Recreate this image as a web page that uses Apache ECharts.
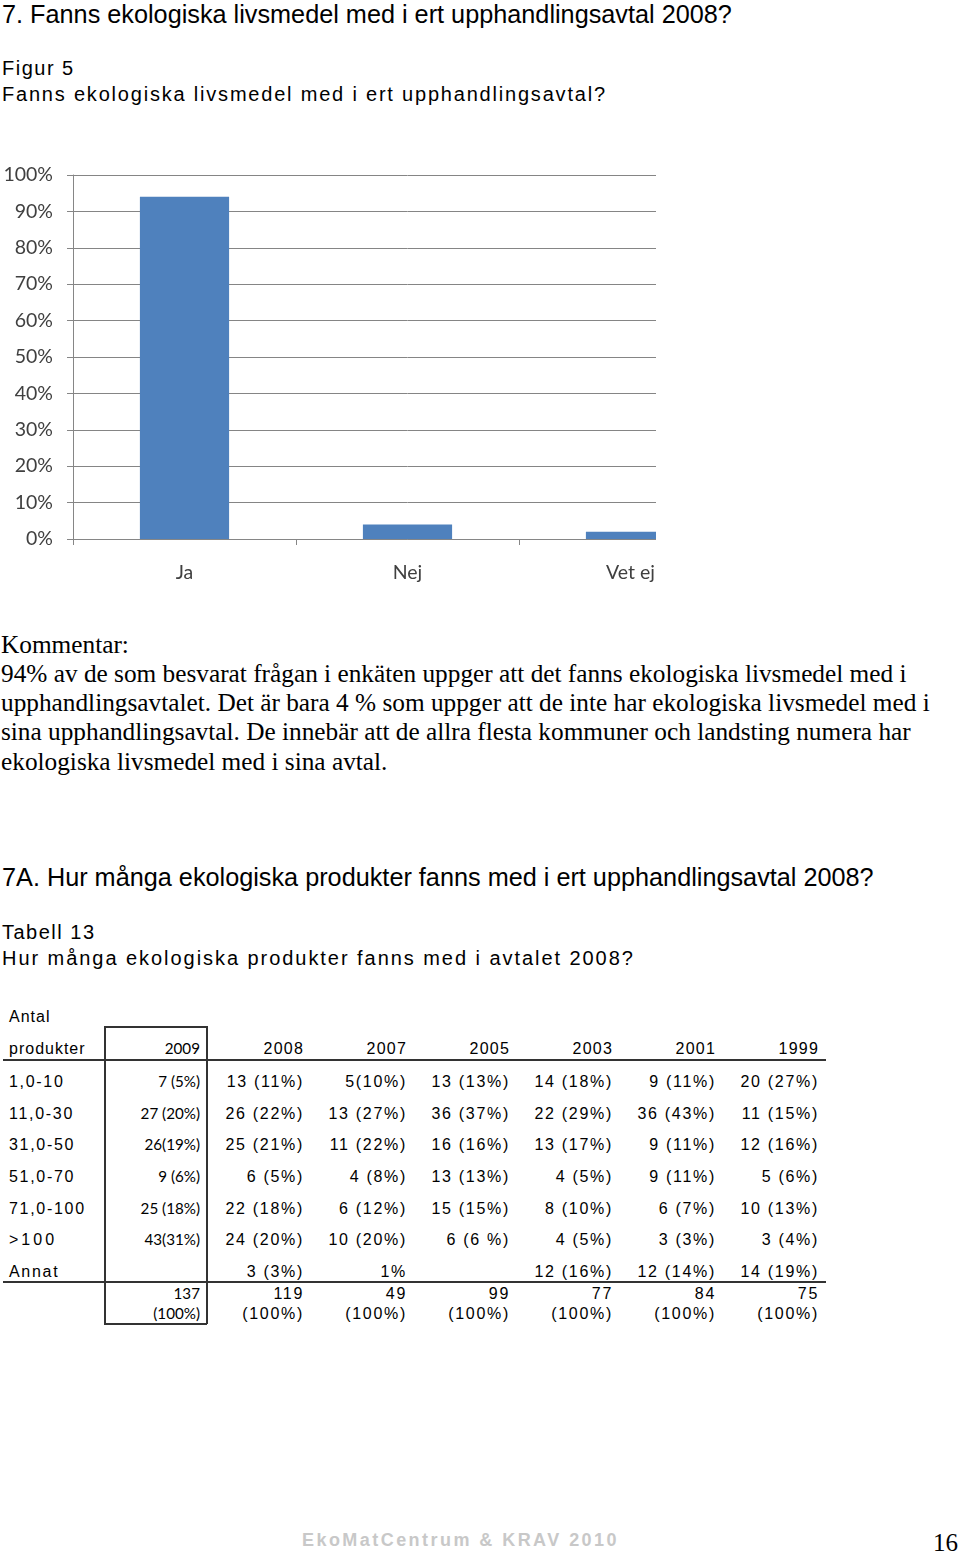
<!DOCTYPE html>
<html><head><meta charset="utf-8">
<script src="https://cdn.jsdelivr.net/npm/echarts@6/dist/echarts.min.js"></script>
<style>
html,body{margin:0;padding:0;background:#fff;}
body{width:960px;height:1554px;position:relative;overflow:hidden;color:#000;}
.t{position:absolute;white-space:nowrap;line-height:1;}
.ar{font-family:"Liberation Sans",Arial,sans-serif;}
.se{font-family:"Liberation Serif","Times New Roman",serif;}
.cell{position:absolute;white-space:nowrap;line-height:1;text-align:right;}
.ln{position:absolute;background:#333;}
</style></head>
<body>
<div style="position:absolute;left:0;top:150px;width:656px;height:440px;overflow:hidden;">
  <div id="chart" style="position:absolute;left:0;top:0;width:780px;height:440px;"></div>
</div>
<div id="page"></div>
<script>
// ---- chart data ----
var chartCategories = ['Ja', 'Nej', 'Vet ej'];
var chartValues = [94, 4, 2];
var yTicks = [0, 10, 20, 30, 40, 50, 60, 70, 80, 90, 100];

// ---- table data ----
var tableYears = ['2009', '2008', '2007', '2005', '2003', '2001', '1999'];
var rowLabels = ['1,0-10', '11,0-30', '31,0-50', '51,0-70', '71,0-100', '>100', 'Annat'];
var col2009 = ['7 (5%)', '27 (20%)', '26(19%)', '9 (6%)', '25 (18%)', '43(31%)', ''];
var col2008 = ['13 (11%)', '26 (22%)', '25 (21%)', '6 (5%)', '22 (18%)', '24 (20%)', '3 (3%)'];
var col2007 = ['5(10%)', '13 (27%)', '11 (22%)', '4 (8%)', '6 (12%)', '10 (20%)', '1%'];
var col2005 = ['13 (13%)', '36 (37%)', '16 (16%)', '13 (13%)', '15 (15%)', '6 (6 %)', ''];
var col2003 = ['14 (18%)', '22 (29%)', '13 (17%)', '4 (5%)', '8 (10%)', '4 (5%)', '12 (16%)'];
var col2001 = ['9 (11%)', '36 (43%)', '9 (11%)', '9 (11%)', '6 (7%)', '3 (3%)', '12 (14%)'];
var col1999 = ['20 (27%)', '11 (15%)', '12 (16%)', '5 (6%)', '10 (13%)', '3 (4%)', '14 (19%)'];
var totals = ['137', '119', '49', '99', '77', '84', '75'];
var totalPct = ['(100%)', '(100%)', '(100%)', '(100%)', '(100%)', '(100%)', '(100%)'];

// ---- page text ----
var page = document.getElementById('page');
function txt(s, cls, left, top, size, extra) {
  var d = document.createElement('div');
  d.className = 't ' + cls;
  d.textContent = s;
  d.style.left = left + 'px';
  d.style.top = top + 'px';
  d.style.fontSize = size + 'px';
  if (extra) for (var k in extra) d.style[k] = extra[k];
  page.appendChild(d);
  return d;
}
txt('7. Fanns ekologiska livsmedel med i ert upphandlingsavtal 2008?', 'ar', 2, 2, 25, {transform:'scaleX(1.01)', transformOrigin:'0 0'});
txt('Figur 5', 'ar', 2, 58, 20, {letterSpacing:'1.5px'});
txt('Fanns ekologiska livsmedel med i ert upphandlingsavtal?', 'ar', 2, 84, 20, {letterSpacing:'1.8px'});

var kom = ['Kommentar:',
  '94% av de som besvarat frågan i enkäten uppger att det fanns ekologiska livsmedel med i',
  'upphandlingsavtalet. Det är bara 4 % som uppger att de inte har ekologiska livsmedel med i',
  'sina upphandlingsavtal. De innebär att de allra flesta kommuner och landsting numera har',
  'ekologiska livsmedel med i sina avtal.'];
var komY = [632, 661, 690, 719, 749];
kom.forEach(function (s, i) { txt(s, 'se', 1, komY[i], 25.3); });

txt('7A. Hur många ekologiska produkter fanns med i ert upphandlingsavtal 2008?', 'ar', 2, 865, 25, {transform:'scaleX(1.01)', transformOrigin:'0 0'});
txt('Tabell 13', 'ar', 2, 922, 20, {letterSpacing:'1.5px'});
txt('Hur många ekologiska produkter fanns med i avtalet 2008?', 'ar', 2, 948, 20, {letterSpacing:'1.95px'});

// ---- table ----
var tf = 'font-family:"Liberation Sans",Arial,sans-serif;font-size:16px;letter-spacing:1.7px;';
var tf09 = 'font-family:Lato,"Open Sans",sans-serif;font-size:15.2px;';
function cell(s, rightX, cy, style, left) {
  var d = document.createElement('div');
  d.className = 'cell';
  d.textContent = s;
  d.setAttribute('style', style);
  d.style.top = (cy - 8) + 'px';
  if (left !== undefined) { d.style.left = left + 'px'; d.style.textAlign = 'left'; }
  else { d.style.right = (960 - rightX) + 'px'; }
  page.appendChild(d);
}
var cols = [col2009, col2008, col2007, col2005, col2003, col2001, col1999];
var rightEdges = [200, 304, 407, 510, 613, 716, 819];
var rowY = [1082, 1114, 1145, 1177, 1209, 1240, 1272];
cell('Antal', 0, 1017, tf + 'letter-spacing:1px;', 9);
cell('produkter', 0, 1049, tf + 'letter-spacing:1px;', 9);
tableYears.forEach(function (y, i) {
  cell(y, rightEdges[i], 1049, i === 0 ? tf09 : tf + 'letter-spacing:1.2px;');
});
rowLabels.forEach(function (r, j) {
  cell(r, 0, rowY[j], tf + (j === 5 ? 'letter-spacing:3px;' : ''), 9);
  cols.forEach(function (c, i) {
    if (c[j]) cell(c[j], rightEdges[i], rowY[j], i === 0 ? tf09 : tf);
  });
});
totals.forEach(function (t, i) {
  cell(t, rightEdges[i], 1294, i === 0 ? tf09 : tf);
  cell(totalPct[i], rightEdges[i], 1314, i === 0 ? tf09 : tf);
});
function line(x, y, w, h) {
  var d = document.createElement('div');
  d.className = 'ln';
  d.style.left = x + 'px'; d.style.top = y + 'px';
  d.style.width = w + 'px'; d.style.height = h + 'px';
  page.appendChild(d);
}
line(3, 1059, 823, 1.5);
line(3, 1281, 823, 1.5);
line(104, 1026, 1.5, 298);
line(206, 1026, 1.5, 298);
line(104, 1026, 103, 1.5);
line(104, 1323, 103, 1.5);

// ---- footer ----
txt('EkoMatCentrum & KRAV 2010', 'ar', 302, 1531, 18, {color:'#c8c8c8', fontWeight:'bold', letterSpacing:'2.45px'});
txt('16', 'se', 933, 1530, 25);

// ---- chart ----
var chart = echarts.init(document.getElementById('chart'), null, {renderer: 'canvas'});
chart.setOption({
  animation: false,
  grid: {left: 73, top: 25, width: 669, height: 364, containLabel: false, outerBoundsMode: 'none'},
  xAxis: {
    type: 'category',
    data: chartCategories,
    axisLine: {show: true, lineStyle: {color: '#868686', width: 1}},
    axisTick: {show: true, length: 6, lineStyle: {color: '#868686'}},
    axisLabel: {color: '#404040', fontSize: 19.5, fontFamily: 'Lato, "Open Sans", sans-serif', margin: 24}
  },
  yAxis: {
    type: 'value',
    min: yTicks[0], max: yTicks[yTicks.length - 1], interval: 10,
    axisLine: {show: true, lineStyle: {color: '#868686', width: 1}},
    axisTick: {show: true, length: 6, lineStyle: {color: '#868686'}},
    splitLine: {show: true, lineStyle: {color: '#858585', width: 1}},
    axisLabel: {color: '#404040', fontSize: 19.5, fontFamily: 'Lato, "Open Sans", sans-serif', margin: 20,
      formatter: function (v) { return v + '%'; }}
  },
  series: [{
    type: 'bar',
    data: chartValues,
    barCategoryGap: '60%',
    itemStyle: {color: '#4f81bd'}
  }]
});
</script>
</body></html>
